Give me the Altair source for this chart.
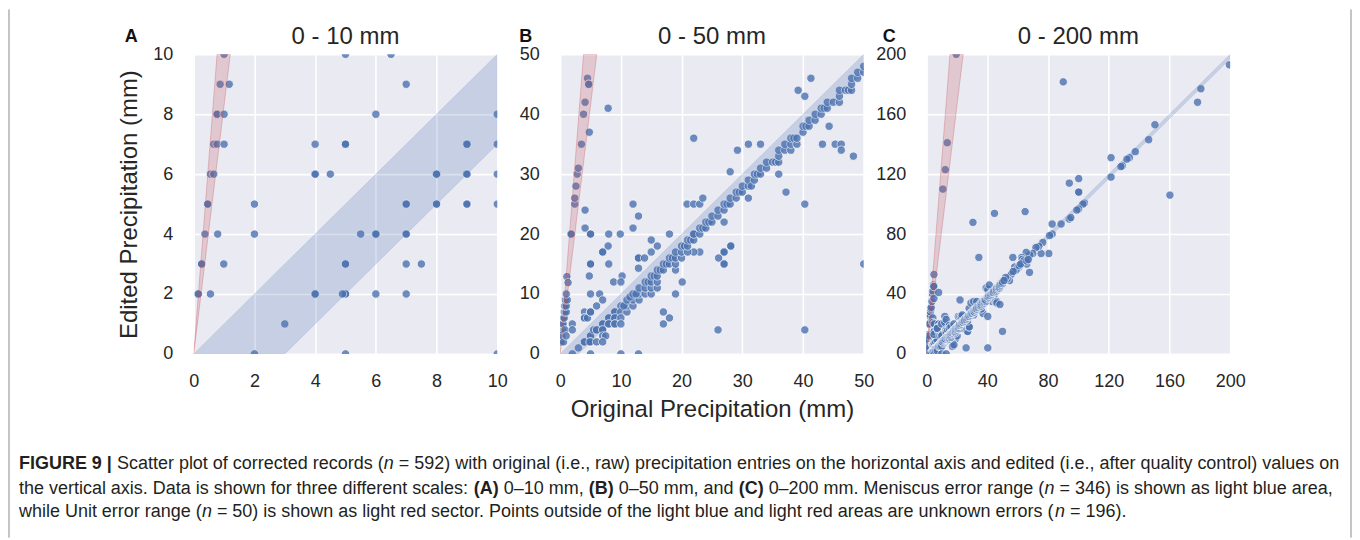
import altair as alt
import pandas as pd

# ---------------- data: (original mm, edited mm) ----------------
# records whose values are both within 0-10 mm (panel A)
small_records = [
    (0.15, 2), (0.15, 2), (0.26, 3), (0.26, 3), (0.37, 4), (0.46, 5), (0.46, 5),
    (0.55, 6), (0.66, 6), (0.66, 7), (0.77, 7), (1.0, 7), (0.77, 8), (0.77, 8),
    (1.0, 8), (0.87, 9), (1.17, 9), (1.0, 10), (0.55, 2), (0.79, 4), (0.99, 3),
    (2, 5), (2, 4), (2, 0), (3, 1), (4, 7), (4, 6), (4, 6), (4.5, 6), (4, 2), (4, 2),
    (5, 10), (5, 7), (5, 7), (5, 3), (5, 3), (5, 2), (5, 2), (4.9, 2), (5, 0),
    (5.5, 4), (6.5, 10), (6, 8), (6, 4), (6, 4), (6, 2), (7, 9), (7, 5), (7, 5),
    (7, 4), (7, 4), (7, 3), (7.5, 3), (7, 2), (8, 6), (8, 6), (8, 5), (8, 5),
    (9, 7), (9, 7), (9, 6), (9, 6), (9, 5), (9, 5), (10, 8), (10, 7), (10, 6),
    (10, 5), (10, 0),
]

# records up to 50 mm (panel B)
mid_records = [
    (1.1, 12.9), (1.3, 11.9), (1.8, 20), (1.8, 20), (2.4, 25), (2.4, 26), (2.6, 28),
    (2.8, 30), (3.0, 31), (3.5, 35), (3.85, 40), (4.1, 42), (4.5, 46), (4.7, 45), (4.7, 45),
    (4.8, 37), (4.1, 24), (4.1, 21), (5, 20), (5, 20), (5, 15), (5, 15), (4.8, 13),
    (7.9, 41), (8, 20), (7.9, 18), (8, 15), (7, 17), (7, 17), (9.9, 20), (8.8, 12),
    (10.2, 13), (10, 12), (12, 25), (12, 21), (12.9, 23), (12.9, 16), (12.9, 16),
    (12.9, 14.3), (13.9, 16), (15, 19), (15, 17), (16, 18), (18, 20), (22, 36),
    (20.9, 25), (22, 25), (23, 25), (23.5, 26), (28, 30.4), (29.2, 34), (31, 35),
    (33, 35), (39.2, 44), (40.3, 43), (41.3, 46), (44.3, 38), (43.2, 35), (45.3, 35),
    (46.3, 35), (46.3, 34), (48.3, 33), (37.2, 27), (40.3, 25), (50, 15), (26.1, 16),
    (27, 17), (27, 17), (27, 15), (27, 15), (28.1, 18), (28.1, 18), (23, 17), (22, 17),
    (19, 10), (20.1, 12), (17, 7), (17, 5), (18, 6), (26, 4), (40.3, 4), (12.9, 0),
    (31, 26), (36, 30), (27, 22), (11, 7), (11, 8), (12, 8), (12, 9), (13, 9), (13, 10),
    (10.5, 8), (11, 9), (11.5, 9.5), (12, 10), (12.5, 10), (13, 11), (14, 10), (14, 11),
    (14, 12), (14.5, 12), (15, 10), (15, 11), (15, 12), (15, 13), (15.5, 13), (16, 11),
    (16, 12), (16, 13), (16, 14), (16.5, 14), (17, 14), (17, 15), (17.5, 15), (18, 15),
    (18, 16), (18.5, 16), (19, 14), (19, 15), (19, 16), (19, 17), (20, 16), (20, 17),
    (20, 18), (20.5, 18), (21, 17), (21, 18), (21, 19), (21.5, 19), (22, 19), (22, 20),
    (22, 20), (23, 20), (23, 21), (23.5, 21), (24, 21), (24, 22), (24.5, 22), (25, 22),
    (25, 23), (26, 23), (26, 24), (27, 24), (27, 25), (27.5, 25), (28, 25), (28, 26),
    (29, 26), (29, 27), (29.5, 27), (30, 27), (30, 28), (31, 28), (31, 29), (31.5, 28),
    (32, 29), (32, 30), (32.5, 30), (33, 30), (33, 31), (34, 31), (34, 32), (35, 32),
    (35.5, 32), (36, 32), (36, 33), (36, 34), (37, 34), (37, 35), (38, 34), (38, 35),
    (38, 36), (38.5, 36), (39, 35), (39, 36), (40, 37), (40, 38), (40.5, 38), (41, 38),
    (41, 39), (42, 39), (42, 40), (43, 40), (43, 41), (43.5, 41), (44, 41), (44, 42),
    (45, 42), (46, 42), (46, 43), (46, 44), (47, 44), (47.5, 44), (48, 44), (48, 45),
    (48, 46), (49, 46), (49, 47), (50, 47), (50, 48),
]

# records above 50 mm (panel C)
large_records = [
    (19.5, 200), (13.6, 141), (12.3, 123), (10.7, 110), (4.8, 53),
    (90, 181.6), (199.5, 193), (180.7, 177), (178.5, 168), (150.4, 153), (146.3, 143),
    (137.5, 135), (133.6, 131), (132, 130), (129, 125.6), (128, 125), (121.5, 131),
    (121.5, 118), (160.3, 106), (100.2, 117), (94, 114), (100.2, 108), (100.2, 108),
    (104, 100.7), (103, 100), (100.2, 96.7), (99, 96), (94, 90), (95, 91), (88.6, 86.7),
    (82.7, 86.7), (82.7, 80), (81, 79), (80.5, 67), (75.4, 67), (76.5, 74.4), (73.9, 71.8),
    (72, 71), (69.9, 67), (68, 66), (65.6, 67.8), (64.9, 95), (44.7, 93.8), (30.5, 87.8),
    (34.4, 64.4), (56.8, 64.4), (62.7, 64.4), (63, 63), (64, 62), (60.7, 57.8),
    (67.8, 54.4), (66, 60), (58, 58), (59, 56), (55.7, 53), (54.6, 48.9), (53, 50),
    (52, 51), (51, 49), (57, 55), (61, 59), (62, 60), (66, 62), (67, 63),
]

# error-range definitions
meniscus_offset = 3.0          # light blue band: edited between original-3 and original
unit_slope_low = 8.3           # light red sector: edited between 8.3x and 13x original
unit_slope_high = 13.0

panel_letters = ["A", "B", "C"]
panel_titles = ["0 - 10 mm", "0 - 50 mm", "0 - 200 mm"]
panel_max = [10, 50, 200]
panel_ticks = [[0, 2, 4, 6, 8, 10], [0, 10, 20, 30, 40, 50], [0, 40, 80, 120, 160, 200]]

caption_lines = [
    [("FIGURE 9 | ", "bold"), ("Scatter plot of corrected records (", "normal"), ("n", "italic"),
     (" = 592) with original (i.e., raw) precipitation entries on the horizontal axis and edited (i.e., after quality control) values on", "normal")],
    [("the vertical axis. Data is shown for three different scales: ", "normal"), ("(A)", "bold"),
     (" 0\u201310 mm, ", "normal"), ("(B)", "bold"), (" 0\u201350 mm, and ", "normal"), ("(C)", "bold"),
     (" 0\u2013200 mm. Meniscus error range (", "normal"), ("n", "italic"),
     (" = 346) is shown as light blue area,", "normal")],
    [("while Unit error range (", "normal"), ("n", "italic"),
     (" = 50) is shown as light red sector. Points outside of the light blue and light red areas are unknown errors (", "normal"),
     ("n", "italic"), (" = 196).", "normal")],
]

# ---------------- styling ----------------
FONT = "Liberation Sans"
TXT = "#262626"
BLUE = "#4C72B0"
RED = "#C44E52"
PW, PH = 304, 300

records = small_records + mid_records + large_records
df = pd.DataFrame(records, columns=["orig", "edit"])

# Helvetica/Arial advance widths (1/1000 em) to lay out the mixed-style caption
W_REG = {" ": 278, "(": 333, ")": 333, ",": 278, "-": 333, ".": 278, ":": 278, "=": 584,
         "|": 260, "\u2013": 556, "I": 278, "i": 222, "j": 222, "l": 222, "f": 278, "t": 278,
         "r": 333, "c": 500, "k": 500, "s": 500, "v": 500, "x": 500, "y": 500, "z": 500,
         "m": 833, "w": 722, "M": 833, "W": 944, "C": 722, "D": 722, "G": 778, "H": 722,
         "N": 722, "O": 778, "Q": 778, "R": 722, "U": 722, "F": 611, "T": 611, "Z": 611,
         "J": 500, "L": 556}
W_BOLD = {" ": 278, "(": 333, ")": 333, "|": 280, "A": 722, "B": 722, "C": 722, "F": 611,
          "I": 278, "G": 778, "U": 722, "R": 722, "E": 667}


def adv(text, style):
    if style == "bold":
        return sum(W_BOLD.get(ch, W_REG.get(ch, 556)) for ch in text)
    return sum(W_REG.get(ch, 556 if not ch.isupper() else 667) for ch in text)


line1_units = sum(adv(t, s) for t, s in caption_lines[0])
CAP_X0, CAP_X1 = 18 - 193, 1341 - 193
cap_fs = (CAP_X1 - CAP_X0) / (line1_units / 1000.0)
cap_baselines = [468.5 - 53, 493 - 53, 516.5 - 53]

one = pd.DataFrame({"k": [0]})


def caption_layers():
    layers = []
    # figure frame: left and right border lines
    for fx in (-185, 1159):
        layers.append(
            alt.Chart(one).mark_rule(color="#8a8a8a", strokeWidth=1).encode(
                x=alt.value(fx), y=alt.value(-45), y2=alt.value(484))
        )
    for li, line in enumerate(caption_lines):
        cursor = CAP_X0
        for text, style in line:
            lead = len(text) - len(text.lstrip(" "))
            shown = text.strip(" ")
            xpos = cursor + adv(" " * lead, style) / 1000.0 * cap_fs
            cursor += adv(text, style) / 1000.0 * cap_fs
            if not shown:
                continue
            layers.append(
                alt.Chart(one).mark_text(
                    font=FONT, fontSize=cap_fs, color="#231f20", align="left", baseline="alphabetic",
                    fontWeight="bold" if style == "bold" else "normal",
                    fontStyle="italic" if style == "italic" else "normal",
                ).encode(x=alt.value(xpos), y=alt.value(cap_baselines[li]), text=alt.value(shown))
            )
    return layers


def panel(i):
    m = panel_max[i]
    ticks = panel_ticks[i]
    xaxis = alt.Axis(values=ticks, title="Original Precipitation (mm)" if i == 1 else "",
                     labelPadding=19, labelFlush=False, labelOverlap=False,
                     titleFontSize=24, titleFontWeight="normal", titleFont=FONT, titleColor=TXT,
                     titlePadding=7)
    yaxis = alt.Axis(values=ticks, title="Edited Precipitation (mm)" if i == 0 else "",
                     labelPadding=21, labelFlush=False, labelOverlap=False,
                     titleFontSize=24, titleFontWeight="normal", titleFont=FONT, titleColor=TXT,
                     titlePadding=11)
    xs = alt.Scale(domain=[0, m], nice=False, zero=False)
    ys = alt.Scale(domain=[0, m], nice=False, zero=False)

    pts = alt.Chart(df).mark_circle(size=70, color=BLUE, opacity=0.8, stroke="white",
                                    strokeWidth=0.8, clip=True).encode(
        x=alt.X("orig:Q", scale=xs, axis=xaxis),
        y=alt.Y("edit:Q", scale=ys, axis=yaxis),
    )

    blue_df = pd.DataFrame({"orig": [0, meniscus_offset, m],
                            "edit": [0, meniscus_offset, m],
                            "edit2": [0, 0, m - meniscus_offset]})
    blue = alt.Chart(blue_df).mark_area(color=BLUE, fillOpacity=0.22, stroke=BLUE,
                                        strokeOpacity=0.15, strokeWidth=1, clip=True).encode(
        x=alt.X("orig:Q", scale=xs, axis=xaxis),
        y=alt.Y("edit:Q", scale=ys, axis=yaxis),
        y2="edit2:Q")

    red_df = pd.DataFrame({"edit": [0, m],
                           "orig": [0, m / unit_slope_high],
                           "orig2": [0, m / unit_slope_low]})
    red = alt.Chart(red_df).mark_area(orient="horizontal", color=RED, fillOpacity=0.22, stroke=RED,
                                      strokeOpacity=0.3, strokeWidth=1, clip=True).encode(
        y=alt.Y("edit:Q", scale=ys, axis=yaxis),
        x=alt.X("orig:Q", scale=xs, axis=xaxis),
        x2="orig2:Q")

    letter_x = [-69, -41, -44][i]
    letter = alt.Chart(one).mark_text(font=FONT, fontSize=18, fontWeight="bold", color="#111111",
                                      align="left", baseline="alphabetic").encode(
        x=alt.value(letter_x), y=alt.value(-12), text=alt.value(panel_letters[i]))

    title = alt.Chart(one).mark_text(font=FONT, fontSize=24, color=TXT, align="center",
                                     baseline="alphabetic").encode(
        x=alt.value(PW / 2), y=alt.value(-10), text=alt.value(panel_titles[i]))

    layers = [pts, blue, red, letter, title]
    if i == 0:
        layers += caption_layers()
    return alt.layer(*layers).properties(width=PW, height=PH)


chart = alt.hconcat(panel(0), panel(1), panel(2), spacing=63, bounds="flush").properties(
    padding={"left": 0, "top": 0, "right": 0, "bottom": 0},
    autosize=alt.AutoSizeParams(type="pad"),
).configure_view(fill="#EAEAF2", strokeWidth=0).configure_axis(
    labelFont=FONT, labelFontSize=18, labelColor=TXT, ticks=False, domain=False,
    grid=True, gridColor="white", gridWidth=1.6,
)

chart.save("out.html", embed_options={"renderer": "svg", "actions": False})
